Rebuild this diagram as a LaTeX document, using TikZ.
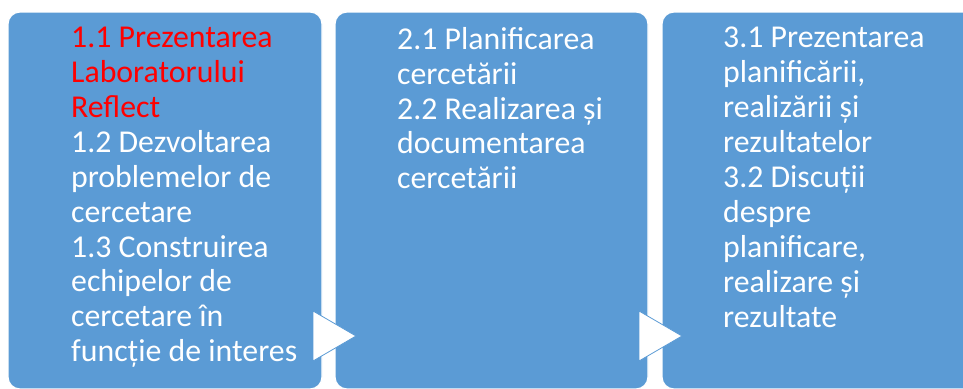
\documentclass[tikz,border=0pt]{standalone}
\usepackage{fontspec}
\setmainfont{Carlito}
\definecolor{boxblue}{HTML}{5B9BD5}
\definecolor{txtred}{HTML}{FF0000}
\begin{document}
\begin{tikzpicture}[x=1pt,y=-1pt,
  stagebox/.style={fill=boxblue,draw=white,line width=1.2pt,rounded corners=12pt},
  stagetext/.style={anchor=north west,inner sep=0pt,align=left,text=white,
    font=\fontsize{31.8}{34.9}\selectfont},
  chevron/.style={fill=white,draw=boxblue,line width=0.8pt}]
\useasboundingbox (0,0) rectangle (963,388);
\path[clip] (0,0) rectangle (963,388);
\draw[stagebox] (8,12) rectangle (322,389);
\draw[stagebox] (335,12) rectangle (648,389);
\draw[stagebox] (662,12) rectangle (990,389);
\node[stagetext] (t1) at (71,27) {\textcolor{txtred}{1.1 Prezentarea}\\
\textcolor{txtred}{Laboratorului}\\
\textcolor{txtred}{Reflect}\\
1.2 Dezvoltarea\\
problemelor de\\
cercetare\\
1.3 Construirea\\
echipelor de\\
cercetare în\\
funcție de interes};
\node[stagetext] (t2) at (397,27) {2.1 Planificarea\\
cercetării\\
2.2 Realizarea și\\
documentarea\\
cercetării};
\node[stagetext] (t3) at (723,27) {3.1 Prezentarea\\
planificării,\\
realizării și\\
rezultatelor\\
3.2 Discuții\\
despre\\
planificare,\\
realizare și\\
rezultate};
\draw[chevron] (313,311) -- (356,336) -- (313,361) -- cycle;
\draw[chevron] (639,311) -- (682,336) -- (639,361) -- cycle;
\end{tikzpicture}
\end{document}
